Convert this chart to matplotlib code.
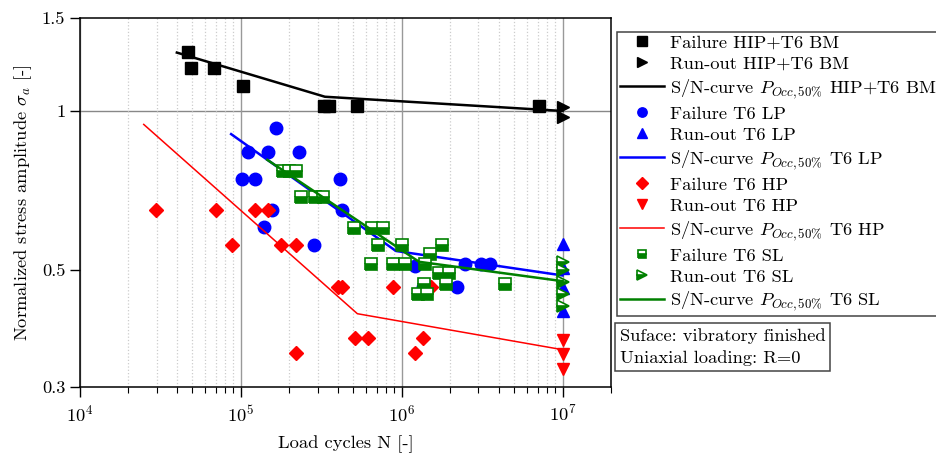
"""
S/N diagram: normalized stress amplitude vs. load cycles
"""
import matplotlib.pyplot as plt
import numpy as np

plt.rcParams['font.family'] = ['cmr10', 'DejaVu Serif']
plt.rcParams['mathtext.fontset'] = 'cm'
plt.rcParams['axes.formatter.use_mathtext'] = True
plt.rcParams['font.size'] = 13.3

# HIP+T6 BM
bm_fail_n = [4.68e4, 4.88e4, 6.8e4, 1.03e5, 3.28e5, 3.52e5, 5.25e5, 7.1e6]
bm_fail_s = [1.296, 1.205, 1.205, 1.114, 1.021, 1.021, 1.021, 1.021]
bm_run_n = [1e7, 1e7]
bm_run_s = [1.019, 0.975]
bm_curve_n = [4.0e4, 3.33e5, 1e7]
bm_curve_s = [1.290, 1.064, 1.0]

# T6 LP
lp_fail_n = [1.66e5, 1.10e5, 1.47e5, 2.31e5, 1.02e5, 1.23e5, 4.15e5, 1.56e5,
             4.28e5, 1.39e5, 2.84e5, 1.21e6, 2.47e6, 3.11e6, 3.53e6, 1.35e6,
             2.20e6]
lp_fail_s = [0.929, 0.835, 0.835, 0.835, 0.742, 0.742, 0.742, 0.649,
             0.649, 0.603, 0.557, 0.509, 0.512, 0.512, 0.512, 0.464,
             0.464]
lp_run_n = [1e7, 1e7, 1e7, 1e7]
lp_run_s = [0.559, 0.504, 0.463, 0.417]
lp_curve_n = [8.7e4, 9.2e5, 1e7]
lp_curve_s = [0.904, 0.543, 0.488]

# T6 HP
hp_fail_n = [2.95e4, 7.05e4, 1.22e5, 1.48e5, 8.8e4, 1.77e5, 2.2e5, 3.99e5,
             4.26e5, 5.12e5, 6.2e5, 2.2e5, 8.8e5, 1.36e6, 1.21e6, 1.53e6]
hp_fail_s = [0.649, 0.649, 0.649, 0.649, 0.557, 0.557, 0.557, 0.464,
             0.464, 0.372, 0.372, 0.348, 0.464, 0.372, 0.348, 0.464]
hp_run_n = [1e7, 1e7, 1e7]
hp_run_s = [0.369, 0.347, 0.324]
hp_curve_n = [2.49e4, 5.3e5, 1e7]
hp_curve_s = [0.943, 0.413, 0.353]

# T6 SL
sl_fail_n = [1.84e5, 2.0e5, 2.2e5, 2.38e5, 2.9e5, 3.25e5, 5.02e5, 6.53e5,
             7.6e5, 7.08e5, 9.97e5, 1.79e6, 6.44e5, 8.85e5, 1.05e6, 1.40e6,
             1.50e6, 1.71e6, 1.97e6, 1.88e6, 1.37e6, 1.27e6, 1.44e6, 4.4e6]
sl_fail_s = [0.770, 0.770, 0.770, 0.686, 0.686, 0.686, 0.600, 0.600,
             0.600, 0.557, 0.557, 0.557, 0.514, 0.514, 0.514, 0.514,
             0.537, 0.493, 0.493, 0.471, 0.471, 0.451, 0.451, 0.471]
sl_run_n = [1e7, 1e7, 1e7, 1e7, 1e7]
sl_run_s = [0.518, 0.499, 0.474, 0.451, 0.428]
sl_curve_n = [1.46e5, 1.28e6, 1e7]
sl_curve_s = [0.808, 0.518, 0.476]

green = '#008000'

fig = plt.figure(figsize=(9.37, 4.61), dpi=100)
ax = fig.add_axes([80 / 937, 1 - 387 / 461, 531 / 937, 369 / 461])
ax.set_xscale('log')
ax.set_yscale('log')

ax.plot(bm_fail_n, bm_fail_s, 's', color='k', ms=9, label='Failure HIP+T6 BM')
ax.plot(bm_run_n, bm_run_s, '>', color='k', ms=9, label='Run-out HIP+T6 BM')
ax.plot(bm_curve_n, bm_curve_s, '-', color='k', lw=1.8,
        label=r'S/N-curve $P_{Occ,50\%}$ HIP+T6 BM')

ax.plot(lp_fail_n, lp_fail_s, 'o', color='b', ms=9, label='Failure T6 LP')
ax.plot(lp_run_n, lp_run_s, '^', color='b', ms=9, label='Run-out T6 LP')
ax.plot(lp_curve_n, lp_curve_s, '-', color='b', lw=1.8,
        label=r'S/N-curve $P_{Occ,50\%}$ T6 LP')

ax.plot(hp_fail_n, hp_fail_s, 'D', color='r', ms=7.5, label='Failure T6 HP')
ax.plot(hp_run_n, hp_run_s, 'v', color='r', ms=9, label='Run-out T6 HP')
ax.plot(hp_curve_n, hp_curve_s, '-', color='r', lw=1.1,
        label=r'S/N-curve $P_{Occ,50\%}$ T6 HP')

ax.plot(sl_fail_n, sl_fail_s, 's', color=green, ms=8, fillstyle='bottom',
        markerfacecoloralt='white', mew=1.2, label='Failure T6 SL')
ax.plot(sl_run_n, sl_run_s, '>', color=green, ms=9, fillstyle='bottom',
        markerfacecoloralt='white', mew=1.2, label='Run-out T6 SL')
ax.plot(sl_curve_n, sl_curve_s, '-', color=green, lw=1.8,
        label=r'S/N-curve $P_{Occ,50\%}$ T6 SL')

ax.set_xlim(1e4, 2e7)
ax.set_ylim(0.3, 1.5)
ax.set_yticks([0.3, 0.5, 1, 1.5])
ax.set_yticklabels(['0.3', '0.5', '1', '1.5'])
ax.yaxis.set_minor_locator(plt.NullLocator())

ax.grid(True, which='major', axis='x', color='#999999', lw=1, zorder=0)
ax.grid(True, which='minor', axis='x', color='#cccccc', ls=':', lw=0.9, zorder=0)
ax.axhline(1, color='#888888', lw=1, zorder=0)
ax.set_axisbelow(True)

ax.tick_params(which='major', length=7, width=1, direction='out')
ax.tick_params(which='minor', length=4, width=0.8, direction='out')
ax.tick_params(axis='x', which='major', pad=5)
for s in ax.spines.values():
    s.set_linewidth(1.1)

ax.set_xlabel('Load cycles N [-]', labelpad=8)
ax.set_ylabel(r'Normalized stress amplitude $\sigma_a$ [-]', labelpad=6)

leg = fig.legend(loc='upper left', bbox_to_anchor=(617 / 937, 1 - 32 / 461),
                 fancybox=False, edgecolor='#444444', framealpha=1,
                 handlelength=2.4, labelspacing=0.28, borderpad=0.15,
                 handletextpad=0.3, borderaxespad=0, markerscale=0.75)
leg.get_frame().set_linewidth(1.1)

fig.text(620 / 937, 1 - 328 / 461,
         'Suface: vibratory finished\nUniaxial loading: R=0',
         ha='left', va='top', linespacing=1.5,
         bbox=dict(boxstyle='square,pad=0.25', fc='white', ec='#444444', lw=1.1))

fig.savefig('out.png', dpi=100)
